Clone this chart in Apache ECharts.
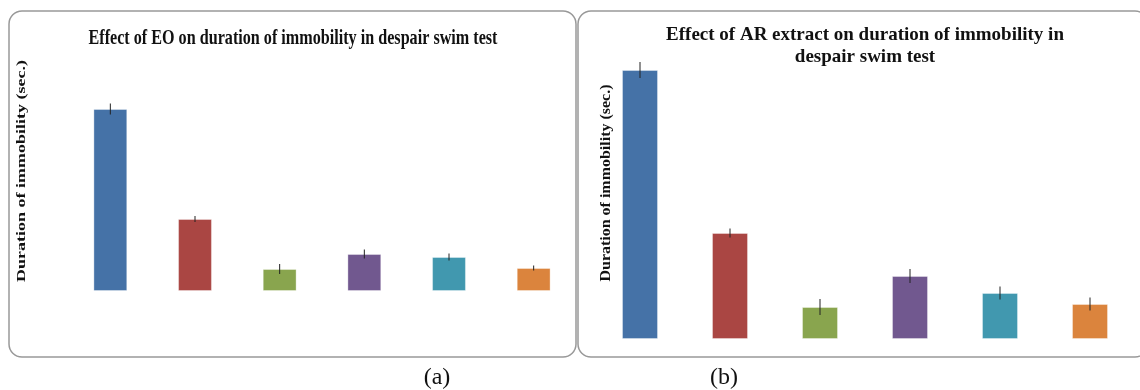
<!DOCTYPE html>
<html>
<head>
<meta charset="utf-8">
<script src="https://cdn.jsdelivr.net/npm/echarts@6/dist/echarts.min.js"></script>
<style>
  html, body { margin: 0; padding: 0; background: #fff; }
  #chart { width: 1140px; height: 390px; }
</style>
</head>
<body>
<div id="chart"></div>
<script>
// groups (no labels are printed on the original figure)
var groups = ['Control', 'Standard', 'Dose 1', 'Dose 2', 'Dose 3', 'Dose 4'];
var barColors = ['#4572A7', '#AA4643', '#89A54E', '#71588F', '#4198AF', '#DB843D'];

// (a) EO - duration of immobility (sec.)
var eoMean = [182, 72, 22, 37, 34, 23];
var eoErr = [5.5, 3, 5, 4.5, 3.5, 2.5];

// (b) AR extract
var arMean = [269, 106, 32, 63, 46, 35];
var arErr = [8, 4.5, 8, 7, 6.5, 6.5];

var titleA = 'Effect of EO on duration of immobility in despair swim test';
var titleB1 = 'Effect of AR extract on duration of immobility in';
var titleB2 = 'despair swim test';
var yName = 'Duration of immobility (sec.)';

var serif = '"Liberation Serif", "Times New Roman", serif';

// measure text so it can be squeezed / stretched to the width in the picture
var ctx = document.createElement('canvas').getContext('2d');
function fitScale(text, font, target) {
  ctx.font = font;
  return target / ctx.measureText(text).width;
}

function errBar(params, api) {
  var x = api.value(0), v = api.value(1), e = api.value(2);
  var top = api.coord([x, v + e]);
  var bot = api.coord([x, v - e]);
  return {
    type: 'line',
    shape: { x1: top[0], y1: top[1], x2: bot[0], y2: bot[1] },
    style: { stroke: '#222', lineWidth: 1 }
  };
}

function hiddenCat(gi) {
  return {
    type: 'category', gridIndex: gi, data: groups,
    axisLine: { show: false }, axisTick: { show: false },
    axisLabel: { show: false }, splitLine: { show: false }
  };
}
function hiddenVal(gi, max) {
  return {
    type: 'value', gridIndex: gi, min: 0, max: max,
    axisLine: { show: false }, axisTick: { show: false },
    axisLabel: { show: false }, splitLine: { show: false }
  };
}

var fontA = 'bold 21px ' + serif;
var fontB = 'bold 19px ' + serif;
var fontYA = 'bold 13px ' + serif;
var fontYB = 'bold 14px ' + serif;

var myChart = echarts.init(document.getElementById('chart'));
myChart.setOption({
  animation: false,
  grid: [
    { left: 68, right: 564, top: 91, bottom: 99 },
    { left: 595, right: 5, top: 59, bottom: 51 }
  ],
  xAxis: [hiddenCat(0), hiddenCat(1)],
  yAxis: [hiddenVal(0, 200), hiddenVal(1, 280)],
  graphic: [
    {
      type: 'rect', silent: true,
      shape: { x: 9, y: 11, width: 567, height: 346, r: 13 },
      style: { fill: 'none', stroke: '#999', lineWidth: 1.5 }
    },
    {
      type: 'rect', silent: true,
      shape: { x: 578, y: 11, width: 570, height: 346, r: 13 },
      style: { fill: 'none', stroke: '#999', lineWidth: 1.5 }
    },
    {
      type: 'text', x: 293, y: 39, scaleX: fitScale(titleA, fontA, 409),
      style: { text: titleA, font: fontA, fill: '#111', textAlign: 'center', textVerticalAlign: 'middle' }
    },
    {
      type: 'text', x: 865, y: 35,
      style: { text: titleB1, font: fontB, fill: '#111', textAlign: 'center', textVerticalAlign: 'middle' }
    },
    {
      type: 'text', x: 865, y: 57,
      style: { text: titleB2, font: fontB, fill: '#111', textAlign: 'center', textVerticalAlign: 'middle' }
    },
    {
      type: 'text', x: 22, y: 171, rotation: Math.PI / 2, scaleX: fitScale(yName, fontYA, 222),
      style: { text: yName, font: fontYA, fill: '#111', textAlign: 'center', textVerticalAlign: 'middle' }
    },
    {
      type: 'text', x: 606, y: 183, rotation: Math.PI / 2, scaleX: fitScale(yName, fontYB, 197),
      style: { text: yName, font: fontYB, fill: '#111', textAlign: 'center', textVerticalAlign: 'middle' }
    },
    {
      type: 'text', x: 437, y: 378,
      style: { text: '(a)', font: '24px ' + serif, fill: '#111', textAlign: 'center', textVerticalAlign: 'middle' }
    },
    {
      type: 'text', x: 724, y: 378,
      style: { text: '(b)', font: '24px ' + serif, fill: '#111', textAlign: 'center', textVerticalAlign: 'middle' }
    }
  ],
  series: [
    {
      name: 'EO', type: 'bar', xAxisIndex: 0, yAxisIndex: 0,
      barWidth: '40%', data: eoMean,
      itemStyle: {
        color: function (p) { return barColors[p.dataIndex]; },
        borderColor: 'rgba(255,255,255,0.35)', borderWidth: 1
      }
    },
    {
      name: 'EO err', type: 'custom', xAxisIndex: 0, yAxisIndex: 0,
      renderItem: errBar, encode: { x: 0, y: 1 },
      data: eoMean.map(function (v, i) { return [i, v, eoErr[i]]; }),
      z: 5
    },
    {
      name: 'AR', type: 'bar', xAxisIndex: 1, yAxisIndex: 1,
      barWidth: '40%', data: arMean,
      itemStyle: {
        color: function (p) { return barColors[p.dataIndex]; },
        borderColor: 'rgba(255,255,255,0.35)', borderWidth: 1
      }
    },
    {
      name: 'AR err', type: 'custom', xAxisIndex: 1, yAxisIndex: 1,
      renderItem: errBar, encode: { x: 0, y: 1 },
      data: arMean.map(function (v, i) { return [i, v, arErr[i]]; }),
      z: 5
    }
  ]
});
</script>
</body>
</html>
